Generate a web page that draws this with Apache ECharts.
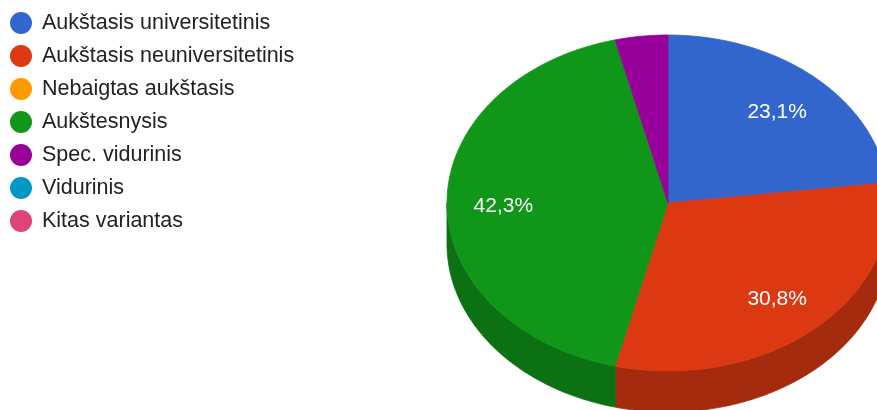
<!DOCTYPE html>
<html>
<head>
<meta charset="utf-8">
<script src="https://cdn.jsdelivr.net/npm/echarts@6/dist/echarts.min.js"></script>
<style>html,body{margin:0;padding:0;background:#fff}#c{width:877px;height:410px}</style>
</head>
<body>
<div id="c"></div>
<script>
const categories = ['Aukštasis universitetinis','Aukštasis neuniversitetinis','Nebaigtas aukštasis','Aukštesnysis','Spec. vidurinis','Vidurinis','Kitas variantas'];
const counts = [6, 8, 0, 11, 1, 0, 0];
const colors = ['#3366cc','#dc3912','#ff9900','#109618','#990099','#0099c6','#dd4477'];

const total = counts.reduce((a,b)=>a+b,0);
const CX = 668, CY = 203, RX = 221, RY = 168, DEPTH = 41, LABEL_F = 0.745, LABEL_DY = 3;

function darker(hex, f) {
  const n = parseInt(hex.slice(1),16);
  const r = Math.round(((n>>16)&255)*f), g = Math.round(((n>>8)&255)*f), b = Math.round((n&255)*f);
  return 'rgb('+r+','+g+','+b+')';
}
function angles(i) {
  let cum = 0;
  for (let k = 0; k < i; k++) cum += counts[k];
  return [2*Math.PI*cum/total, 2*Math.PI*(cum+counts[i])/total];
}
function pt(a, dy) { return [CX + RX*Math.sin(a), CY - RY*Math.cos(a) + (dy||0)]; }
function arc(a0, a1, dy) {
  const pts = [];
  const n = Math.max(2, Math.ceil((a1-a0)/(Math.PI/180)));
  for (let s = 0; s <= n; s++) pts.push(pt(a0 + (a1-a0)*s/n, dy));
  return pts;
}

const chart = echarts.init(document.getElementById('c'), null, {renderer:'canvas'});
chart.setOption({
  animation: false,
  legend: {
    orient: 'vertical', left: 5, top: 7,
    itemWidth: 22, itemHeight: 22, itemGap: 11, icon: 'circle',
    data: categories,
    selectedMode: false,
    textStyle: {fontFamily: 'Liberation Sans, Arial, sans-serif', fontSize: 21.5, color: '#222', padding: [0,0,0,5]}
  },
  series: [
    {
      type: 'pie', name: 'legend', radius: [0, 0], center: [-100, -100], silent: true,
      label: {show: false}, labelLine: {show: false},
      data: categories.map((c,i)=>({name:c, value:counts[i], itemStyle:{color:colors[i]}}))
    },
    {
      type: 'custom', name: 'walls', coordinateSystem: 'none', z: 1, silent: true,
      data: counts,
      renderItem: function(params, api) {
        const i = params.dataIndex;
        if (!counts[i]) return null;
        const [a0, a1] = angles(i);
        const s = Math.max(a0, Math.PI/2), e = Math.min(a1, 3*Math.PI/2);
        if (e <= s) return null;
        const top = arc(s, e, 0);
        const bot = arc(s, e, DEPTH).reverse();
        const c = darker(colors[i], 0.75);
        return {type:'polygon', shape:{points: top.concat(bot)}, style:{fill:c, stroke:c, lineWidth:0.8}};
      }
    },
    {
      type: 'custom', name: 'top', coordinateSystem: 'none', z: 2, silent: true,
      data: counts,
      renderItem: function(params, api) {
        const i = params.dataIndex;
        if (!counts[i]) return null;
        const [a0, a1] = angles(i);
        const pts = [[CX, CY]].concat(arc(a0, a1, 0));
        const children = [{type:'polygon', shape:{points: pts}, style:{fill:colors[i], stroke:colors[i], lineWidth:0.8}}];
        const frac = counts[i]/total;
        if (frac >= 0.05) {
          const m = (a0+a1)/2;
          children.push({
            type:'text', z2: 10,
            x: CX + RX*LABEL_F*Math.sin(m), y: CY - RY*LABEL_F*Math.cos(m) + LABEL_DY,
            style:{text:(frac*100).toFixed(1).replace('.',',')+'%', fill:'#fff', fontSize:21,
                   fontFamily:'Liberation Sans, Arial, sans-serif', align:'center', verticalAlign:'middle'}
          });
        }
        return {type:'group', children: children};
      }
    }
  ]
});
</script>
</body>
</html>
